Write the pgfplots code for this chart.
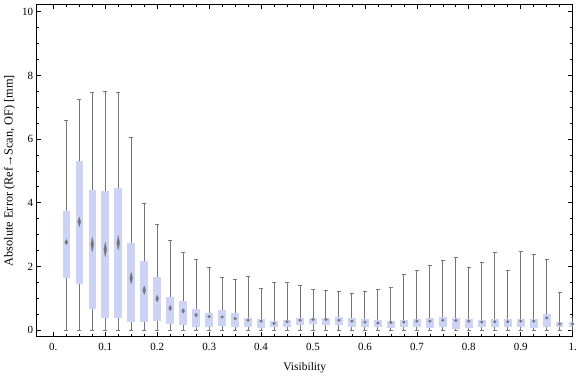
\documentclass[border=0pt]{standalone}
\usepackage{pgfplots}
\pgfplotsset{compat=1.18}
\usepgfplotslibrary{statistics}
\usepackage{fontspec}
\setmainfont{Liberation Serif}
\definecolor{boxfill}{RGB}{204,211,245}
\definecolor{whiskergray}{RGB}{118,118,118}
\definecolor{medgray}{RGB}{118,118,118}
\newcommand{\bx}[6]{\addplot[draw=whiskergray, fill=boxfill, line width=1bp,
  boxplot prepared={draw position=#1, lower whisker=#6, lower quartile=#2, median=#3, upper quartile=#4, upper whisker=#5}] coordinates {};}
\begin{document}
\begin{tikzpicture}
\begin{axis}[name=ax, scale only axis, width=536bp, height=332.2bp,
  xmin=-0.032, xmax=1.0, ymin=-0.21, ymax=10.23,
  axis line style={black, line width=0.8bp},
  xtick={0,0.1,...,1.0}, xticklabels={0.,0.1,0.2,0.3,0.4,0.5,0.6,0.7,0.8,0.9,1.},
  ytick={0,2,4,6,8,10}, yticklabels={0,2,4,6,8,10},
  minor x tick num=3, minor y tick num=3,
  major tick length=4.5bp, minor tick length=2.5bp,
  every tick/.style={black, line width=0.7bp},
  xticklabel style={anchor=base, yshift=-13.3bp, font=\fontsize{11bp}{13bp}\selectfont},
  yticklabel style={font=\fontsize{11bp}{13bp}\selectfont},
  xlabel={Visibility}, ylabel={Absolute Error (Ref→Scan, OF) [mm]},
  every axis x label/.style={at={(axis description cs:0.5,0)}, yshift=-31.3bp, anchor=center, font=\fontsize{11.5bp}{13bp}\selectfont},
  every axis y label/.style={at={(axis description cs:0,0.5)}, xshift=-27bp, rotate=90, anchor=center, font=\fontsize{12.3bp}{14bp}\selectfont},
  boxplot/draw direction=y,
  boxplot/box extend=0.0145,
  boxplot/whisker extend=0.008,
  boxplot/every box/.style={draw=none, fill=boxfill},
  boxplot/every whisker/.style={draw=whiskergray, line width=1bp},
  boxplot/every median/.style={draw=none},
]
\bx{0.025}{1.64}{2.76}{3.73}{6.60}{0}
\bx{0.05}{1.45}{3.40}{5.30}{7.26}{0}
\bx{0.075}{0.65}{2.69}{4.41}{7.45}{0}
\bx{0.1}{0.39}{2.53}{4.38}{7.51}{0}
\bx{0.125}{0.39}{2.74}{4.45}{7.48}{0}
\bx{0.15}{0.26}{1.63}{2.73}{6.04}{0}
\bx{0.175}{0.26}{1.25}{2.16}{3.97}{0}
\bx{0.2}{0.29}{0.99}{1.66}{3.31}{0}
\bx{0.225}{0.20}{0.69}{1.03}{2.81}{0}
\bx{0.25}{0.16}{0.60}{0.91}{2.43}{0}
\bx{0.275}{0.10}{0.47}{0.66}{2.22}{0}
\bx{0.3}{0.10}{0.42}{0.53}{1.97}{0}
\bx{0.325}{0.13}{0.41}{0.63}{1.65}{0}
\bx{0.35}{0.09}{0.36}{0.52}{1.59}{0}
\bx{0.375}{0.10}{0.31}{0.38}{1.68}{0}
\bx{0.4}{0.07}{0.28}{0.34}{1.31}{0}
\bx{0.425}{0.08}{0.21}{0.28}{1.50}{0}
\bx{0.45}{0.10}{0.26}{0.31}{1.50}{0}
\bx{0.475}{0.17}{0.31}{0.38}{1.40}{0}
\bx{0.5}{0.20}{0.33}{0.38}{1.28}{0}
\bx{0.525}{0.17}{0.33}{0.38}{1.24}{0}
\bx{0.55}{0.17}{0.31}{0.41}{1.21}{0}
\bx{0.575}{0.10}{0.28}{0.38}{1.15}{0}
\bx{0.6}{0.10}{0.25}{0.34}{1.21}{0}
\bx{0.625}{0.10}{0.22}{0.31}{1.28}{0}
\bx{0.65}{0.07}{0.24}{0.28}{1.34}{0}
\bx{0.675}{0.10}{0.25}{0.31}{1.76}{0}
\bx{0.7}{0.09}{0.28}{0.34}{1.88}{0}
\bx{0.725}{0.07}{0.28}{0.38}{2.04}{0}
\bx{0.75}{0.10}{0.31}{0.41}{2.18}{0}
\bx{0.775}{0.04}{0.30}{0.38}{2.28}{0}
\bx{0.8}{0.07}{0.28}{0.34}{1.97}{0}
\bx{0.825}{0.10}{0.25}{0.31}{2.12}{0}
\bx{0.85}{0.10}{0.26}{0.34}{2.43}{0}
\bx{0.875}{0.10}{0.26}{0.34}{1.87}{0}
\bx{0.9}{0.10}{0.28}{0.34}{2.47}{0}
\bx{0.925}{0.07}{0.28}{0.34}{2.37}{0}
\bx{0.95}{0.10}{0.38}{0.50}{2.22}{0}
\bx{0.975}{0.09}{0.19}{0.25}{1.18}{0}
\bx{1.0}{0.09}{0.19}{0.25}{0.40}{0}
\addplot[scatter, only marks, mark=diamond*, mark size=2bp,
  scatter/use mapped color={draw=medgray, fill=medgray},
  mark options={line width=0.2bp},
  visualization depends on={\thisrow{h} \as \dh},
  scatter/@pre marker code/.append style={/tikz/yscale=\dh}]
  table[x=x, y=med] {
x med h
0.025 2.76 1.4
0.05 3.40 2.4
0.075 2.69 3.6
0.1 2.53 3.6
0.125 2.74 3.6
0.15 1.63 2.9
0.175 1.25 2.2
0.2 0.99 1.7
0.225 0.69 1.4
0.25 0.60 1.2
0.275 0.47 1.0
0.3 0.42 0.7
0.325 0.41 0.7
0.35 0.36 0.7
0.375 0.31 0.7
0.4 0.28 0.7
0.425 0.21 0.7
0.45 0.26 0.7
0.475 0.31 0.7
0.5 0.33 0.7
0.525 0.33 0.7
0.55 0.31 0.7
0.575 0.28 0.7
0.6 0.25 0.7
0.625 0.22 0.7
0.65 0.24 0.7
0.675 0.25 0.7
0.7 0.28 0.7
0.725 0.28 0.7
0.75 0.31 0.7
0.775 0.30 0.7
0.8 0.28 0.7
0.825 0.25 0.7
0.85 0.26 0.7
0.875 0.26 0.7
0.9 0.28 0.7
0.925 0.28 0.7
0.95 0.38 0.7
0.975 0.19 0.7
1.0 0.19 0.7
};
\end{axis}
\pgfresetboundingbox
\path[use as bounding box] ([shift={(-36.7bp,-40.3bp)}]ax.south west) rectangle ([shift={(3.3bp,4.5bp)}]ax.north east);
\end{tikzpicture}
\end{document}
